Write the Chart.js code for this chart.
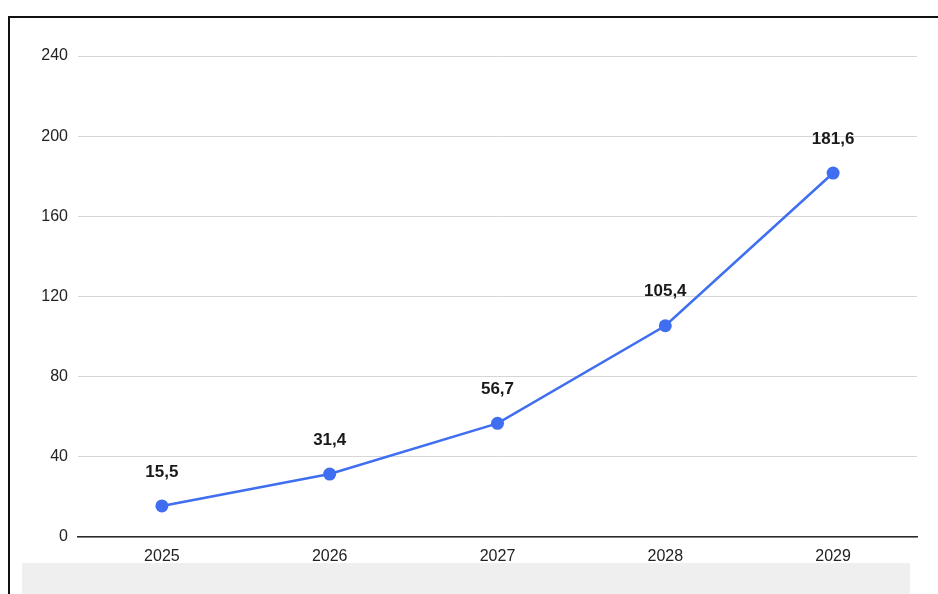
<!DOCTYPE html>
<html lang="es">
<head>
	<title>Proyección 2025-2029</title>
	<script src="https://cdn.jsdelivr.net/npm/chart.js"></script>
	<style>
		body {
			margin: 0;
			background: #fff;
			width: 938px;
			height: 594px;
			overflow: hidden;
			position: relative;
		}
		.band {
			position: absolute;
			left: 22px;
			top: 563px;
			width: 888px;
			height: 31px;
			background: #efefef;
		}
		.frame {
			position: absolute;
			left: 8px;
			top: 16px;
			width: 940px;
			height: 590px;
			border-left: 2px solid #111;
			border-top: 2px solid #111;
		}
		#growthChart {
			position: absolute;
			left: 0;
			top: 0;
		}
	</style>
</head>
<body>
<div class="band"></div>
<div class="frame"></div>
<canvas id="growthChart" width="938" height="594"></canvas>

<script>
	const years = ['2025', '2026', '2027', '2028', '2029'];
	const values = [15.5, 31.4, 56.7, 105.4, 181.6];
	const yTicks = [0, 40, 80, 120, 160, 200, 240];

	const lineBlue = '#3f6ef0';
	const fontFamily = '"Liberation Sans", Arial, sans-serif';

	// writes each value above its point, with a decimal comma
	const valueLabels = {
		id: 'valueLabels',
		afterDatasetsDraw(chart) {
			const ctx = chart.ctx;
			const meta = chart.getDatasetMeta(0);
			ctx.save();
			ctx.font = 'bold 17px ' + fontFamily;
			ctx.fillStyle = '#1a1a1a';
			ctx.textAlign = 'center';
			ctx.textBaseline = 'middle';
			meta.data.forEach((pt, i) => {
				const txt = values[i].toFixed(1).replace('.', ',');
				ctx.fillText(txt, pt.x, pt.y - 34);
			});
			ctx.restore();
		}
	};

	new Chart(document.getElementById('growthChart'), {
		type: 'line',
		data: {
			labels: years,
			datasets: [{
				data: values,
				borderColor: lineBlue,
				backgroundColor: lineBlue,
				borderWidth: 2.5,
				pointRadius: 6.5,
				pointBorderWidth: 0,
				pointBackgroundColor: lineBlue,
				tension: 0
			}]
		},
		options: {
			responsive: false,
			animation: false,
			layout: {
				padding: { top: 56, right: 21, bottom: 0, left: 0 }
			},
			plugins: {
				legend: { display: false },
				tooltip: { enabled: false }
			},
			scales: {
				x: {
					offset: true,
					grid: { display: false, drawTicks: false },
					border: { display: true, color: '#2a2a2a', width: 1.5 },
					ticks: {
						padding: 10,
						color: '#222',
						font: { family: fontFamily, size: 16 }
					},
					afterFit(scale) { scale.height = 57; }
				},
				y: {
					min: 0,
					max: 240,
					afterBuildTicks(scale) {
						scale.ticks = yTicks.map(v => ({ value: v }));
					},
					grid: { color: '#d6d6d6', lineWidth: 1, drawTicks: false },
					border: { display: false },
					ticks: {
						padding: 10,
						color: '#222',
						font: { family: fontFamily, size: 16 }
					},
					afterFit(scale) { scale.width = 78; }
				}
			}
		},
		plugins: [valueLabels]
	});
</script>
</body>
</html>
